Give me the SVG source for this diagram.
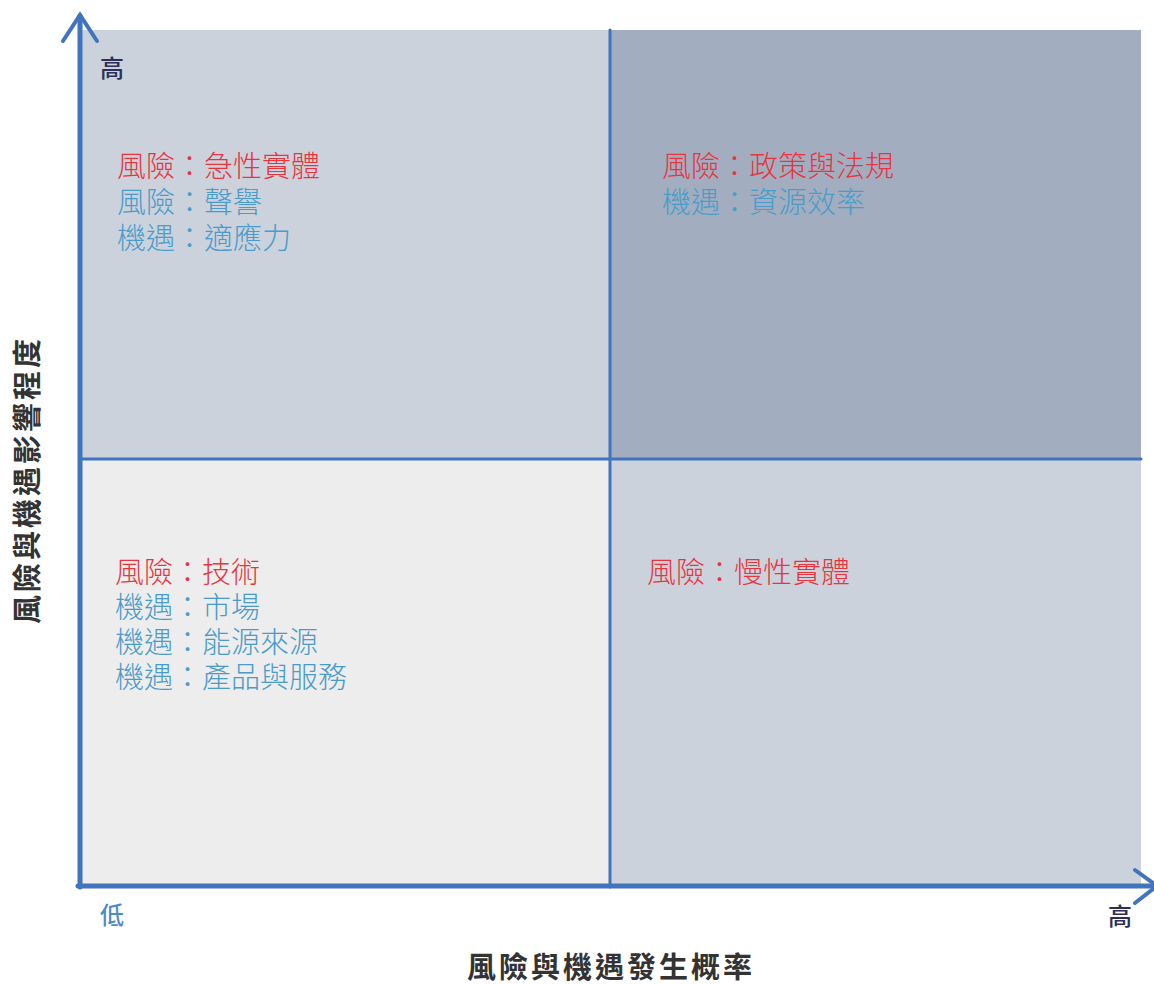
<svg xmlns="http://www.w3.org/2000/svg" width="1154" height="984" viewBox="0 0 1154 984">
<style>
.t{font-family:"Noto Sans CJK TC","Noto Sans CJK SC",sans-serif;font-size:29px;font-weight:300}
.r{fill:#E8343F}
.b{fill:#4A9BC9}
.ax{font-family:"Noto Sans CJK TC","Noto Sans CJK SC",sans-serif;font-size:29px;font-weight:bold;fill:#333;letter-spacing:3px}
.sm{font-family:"Noto Sans CJK TC","Noto Sans CJK SC",sans-serif;font-size:24px;font-weight:500}
.ln{stroke:#4174BE;fill:none;stroke-linecap:round}
</style>
<rect width="1154" height="984" fill="#fff"/>
<g id="quadrants">
<rect x="80" y="30" width="530" height="429" fill="#CBD2DC"/>
<rect x="610" y="30" width="531" height="429" fill="#A2AEBF"/>
<rect x="80" y="459" width="530" height="428" fill="#EDEDED"/>
<rect x="610" y="459" width="531" height="428" fill="#CBD2DC"/>
</g>
<g id="connectors">
<line class="ln" x1="610" y1="30" x2="610" y2="887" stroke-width="3"/>
<line class="ln" x1="80" y1="459" x2="1141" y2="459" stroke-width="3"/>
<line class="ln" x1="80" y1="16" x2="80" y2="887" stroke-width="5"/>
<polyline class="ln" points="63,41 80,15 97,41" stroke-width="4"/>
<line class="ln" x1="78" y1="886" x2="1154" y2="886" stroke-width="5"/>
<polyline class="ln" points="1135,870 1157,886 1135,903" stroke-width="4"/>
</g>
<g id="tl">
<text class="t r" x="117" y="177">風險：急性實體</text>
<text class="t b" x="117" y="213">風險：聲譽</text>
<text class="t b" x="117" y="249">機遇：適應力</text>
</g>
<g id="tr">
<text class="t r" x="662" y="177">風險：政策與法規</text>
<text class="t b" x="662" y="213">機遇：資源效率</text>
</g>
<g id="bl">
<text class="t r" x="115" y="583">風險：技術</text>
<text class="t b" x="115" y="618">機遇：市場</text>
<text class="t b" x="115" y="653">機遇：能源來源</text>
<text class="t b" x="115" y="688">機遇：產品與服務</text>
</g>
<g id="br">
<text class="t r" x="647" y="583">風險：慢性實體</text>
</g>
<g id="labels">
<text class="sm" x="112" y="77" text-anchor="middle" fill="#2C3058">高</text>
<text class="sm" x="112" y="924" text-anchor="middle" fill="#4A8CC8">低</text>
<text class="sm" x="1120" y="925" text-anchor="middle" fill="#2C3058">高</text>
<text class="ax" x="611" y="978" text-anchor="middle">風險與機遇發生概率</text>
<text class="ax" transform="translate(38,480) rotate(-90)" text-anchor="middle">風險與機遇影響程度</text>
</g>
</svg>
